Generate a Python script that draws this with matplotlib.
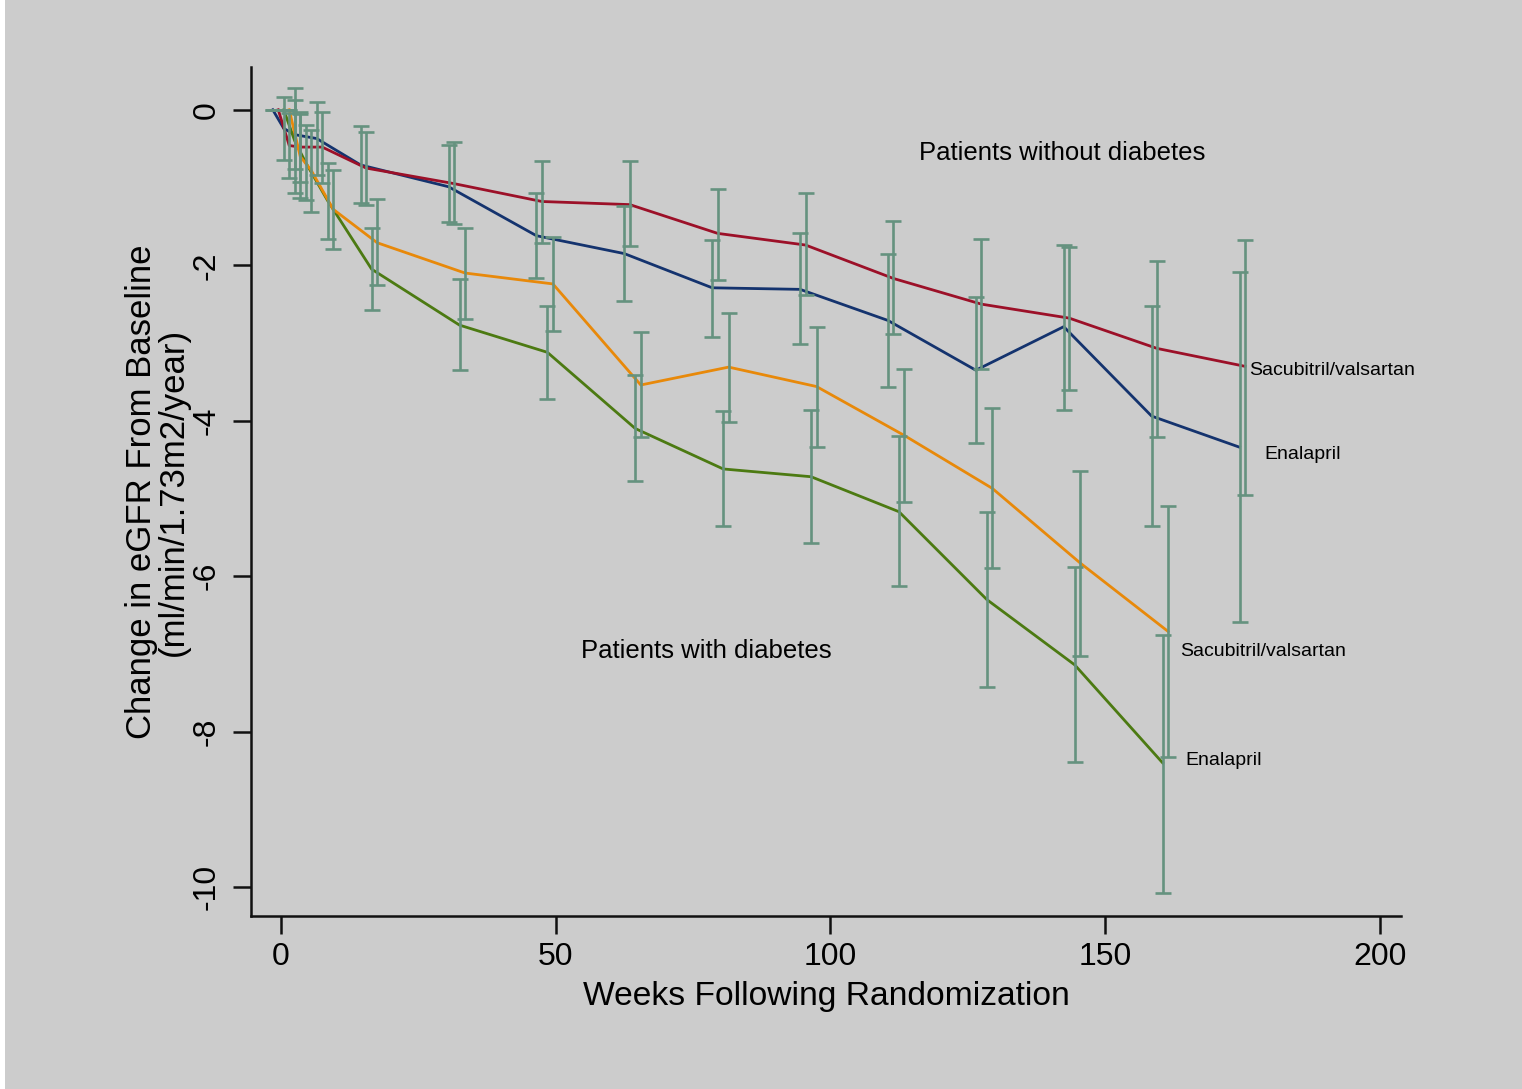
import matplotlib
matplotlib.use("Agg")
import matplotlib.pyplot as plt
from matplotlib.patches import Rectangle

plt.rcParams['font.family'] = ['Liberation Sans', 'DejaVu Sans']

# visit weeks
weeks_nodm = [0, 2, 4, 8, 16, 32, 48, 64, 80, 96, 112, 128, 144, 160, 176]
weeks_dm = [0, 2, 4, 8, 16, 32, 48, 64, 80, 96, 112, 128, 144, 160]

# patients without diabetes - sacubitril/valsartan
sv_nodm = [0, -0.46, -0.48, -0.48, -0.75, -0.95, -1.18, -1.22, -1.59, -1.74, -2.17, -2.50, -2.68, -3.07, -3.30]
sv_nodm_lo = [0, -0.88, -0.93, -0.94, -1.22, -1.47, -1.71, -1.75, -2.19, -2.38, -2.89, -3.33, -3.61, -4.21, -4.95]
sv_nodm_hi = [0, -0.04, -0.03, -0.03, -0.28, -0.42, -0.66, -0.66, -1.02, -1.07, -1.43, -1.66, -1.76, -1.94, -1.67]

# patients without diabetes - enalapril
en_nodm = [0, -0.24, -0.32, -0.37, -0.71, -0.99, -1.62, -1.85, -2.29, -2.31, -2.71, -3.35, -2.79, -3.94, -4.34]
en_nodm_lo = [0, -0.64, -0.76, -0.84, -1.20, -1.45, -2.16, -2.46, -2.92, -3.01, -3.56, -4.28, -3.86, -5.35, -6.59]
en_nodm_hi = [0, 0.17, 0.12, 0.10, -0.21, -0.45, -1.07, -1.24, -1.67, -1.59, -1.86, -2.41, -1.74, -2.52, -2.09]

# patients with diabetes - sacubitril/valsartan
sv_dm = [0, -0.60, -0.78, -1.28, -1.71, -2.10, -2.24, -3.54, -3.31, -3.56, -4.19, -4.87, -5.83, -6.71]
sv_dm_lo = [0, -1.13, -1.31, -1.79, -2.26, -2.69, -2.84, -4.21, -4.01, -4.34, -5.05, -5.90, -7.02, -8.32]
sv_dm_hi = [0, -0.06, -0.26, -0.77, -1.15, -1.52, -1.64, -2.86, -2.61, -2.79, -3.34, -3.84, -4.64, -5.10]

# patients with diabetes - enalapril
en_dm = [0, -0.40, -0.68, -1.17, -2.05, -2.77, -3.12, -4.10, -4.62, -4.72, -5.17, -6.30, -7.14, -8.40]
en_dm_lo = [0, -1.07, -1.16, -1.66, -2.58, -3.35, -3.72, -4.78, -5.36, -5.57, -6.12, -7.43, -8.39, -10.07]
en_dm_hi = [0, 0.28, -0.19, -0.69, -1.52, -2.18, -2.52, -3.41, -3.88, -3.86, -4.20, -5.18, -5.88, -6.75]

BG = '#cccccc'
ERR = '#65927f'


def draw_series(ax, weeks, y, lo, hi, offset, color):
    x = [w + offset for w in weeks]
    ax.plot(x, y, color=color, lw=2.0, zorder=2)
    yerr = [[v - l for v, l in zip(y, lo)], [h - v for v, h in zip(y, hi)]]
    ax.errorbar(x, y, yerr=yerr, fmt='none', ecolor=ERR, elinewidth=1.9,
                capsize=5.8, capthick=1.9, zorder=3)


fig = plt.figure(figsize=(15.22, 10.89), dpi=100, facecolor=BG)
fig.patches.append(Rectangle((0, 0), 5 / 1522, 1, transform=fig.transFigure,
                             facecolor='white', edgecolor='none', zorder=-1))
ax = fig.add_axes([251 / 1522, 1 - 916 / 1089, (1401 - 251) / 1522, (916 - 67) / 1089])
ax.set_facecolor(BG)

draw_series(ax, weeks_nodm, en_nodm, en_nodm_lo, en_nodm_hi, -1.5, '#14336e')
draw_series(ax, weeks_nodm, sv_nodm, sv_nodm_lo, sv_nodm_hi, -0.5, '#9c1028')
draw_series(ax, weeks_dm, en_dm, en_dm_lo, en_dm_hi, 0.5, '#4c7a12')
draw_series(ax, weeks_dm, sv_dm, sv_dm_lo, sv_dm_hi, 1.5, '#e8890a')

ax.set_xlim(-5.46, 203.9)
ax.set_ylim(-10.37, 0.55)
ax.set_xticks([0, 50, 100, 150, 200])
ax.set_yticks([0, -2, -4, -6, -8, -10])
ax.set_yticklabels(['0', '-2', '-4', '-6', '-8', '-10'], rotation=90, va='center')
ax.tick_params(axis='both', length=13, width=1.8, labelsize=23, color='#111111', pad=6)
ax.tick_params(axis='y', pad=8)

for side in ['top', 'right']:
    ax.spines[side].set_visible(False)
for side in ['left', 'bottom']:
    ax.spines[side].set_linewidth(1.8)
    ax.spines[side].set_color('#111111')

ax.set_xlabel('Weeks Following Randomization', fontsize=24.2, labelpad=6)
ax.set_ylabel('Change in eGFR From Baseline\n(ml/min/1.73m2/year)', fontsize=25,
              labelpad=1.5, linespacing=0.95)

ax.text(142.3, -0.55, 'Patients without diabetes', fontsize=18.5, ha='center', va='center')
ax.text(77.5, -6.96, 'Patients with diabetes', fontsize=18.5, ha='center', va='center')
ax.text(176.2, -3.36, 'Sacubitril/valsartan', fontsize=14, ha='left', va='center')
ax.text(179.1, -4.44, 'Enalapril', fontsize=14, ha='left', va='center')
ax.text(163.6, -6.97, 'Sacubitril/valsartan', fontsize=14, ha='left', va='center')
ax.text(164.7, -8.37, 'Enalapril', fontsize=14, ha='left', va='center')

fig.savefig('out.png', dpi=100, facecolor=BG)
